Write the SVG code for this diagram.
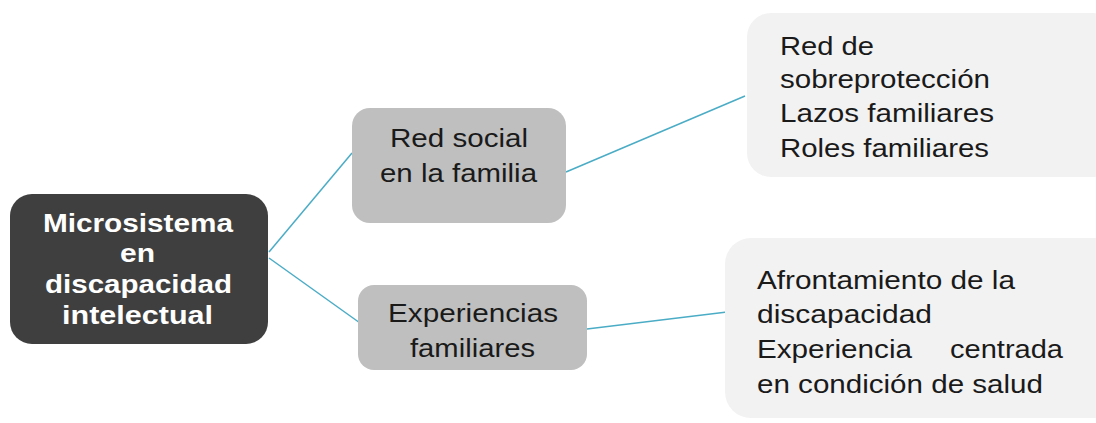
<svg xmlns="http://www.w3.org/2000/svg" width="1096" height="423" viewBox="0 0 1096 423">
<style>
.t{font-family:"Liberation Sans",Arial,sans-serif;font-size:25px;fill:#1a1a1a}
.w{font-family:"Liberation Sans",Arial,sans-serif;font-size:25px;font-weight:bold;fill:#ffffff}
.c{fill:none;stroke:#4bacc6;stroke-width:1.5}
</style>
<rect width="1096" height="423" fill="#ffffff"/>
<g id="connectors">
<line class="c" x1="269" y1="252" x2="352" y2="153"/>
<line class="c" x1="269" y1="258" x2="360" y2="323"/>
<line class="c" x1="566" y1="172" x2="745" y2="96"/>
<line class="c" x1="587" y1="329" x2="727" y2="312"/>
</g>
<g id="root">
<rect x="10" y="194" width="258" height="150" rx="22" fill="#3f3f3f"/>
<text class="w" x="43" y="232" textLength="190" lengthAdjust="spacingAndGlyphs">Microsistema</text>
<text class="w" x="120" y="262" textLength="35" lengthAdjust="spacingAndGlyphs">en</text>
<text class="w" x="45" y="293" textLength="187" lengthAdjust="spacingAndGlyphs">discapacidad</text>
<text class="w" x="62" y="324" textLength="151" lengthAdjust="spacingAndGlyphs">intelectual</text>
</g>
<g id="red-social">
<rect x="352" y="108" width="214" height="115" rx="18" fill="#bfbfbf"/>
<text class="t" x="390" y="147" textLength="138" lengthAdjust="spacingAndGlyphs">Red social</text>
<text class="t" x="380" y="182" textLength="157" lengthAdjust="spacingAndGlyphs">en la familia</text>
</g>
<g id="experiencias">
<rect x="358" y="285" width="229" height="85" rx="16" fill="#bfbfbf"/>
<text class="t" x="388" y="322" textLength="170" lengthAdjust="spacingAndGlyphs">Experiencias</text>
<text class="t" x="410" y="357" textLength="125" lengthAdjust="spacingAndGlyphs">familiares</text>
</g>
<g id="red-detalle">
<rect x="747" y="13" width="370" height="164" rx="24" fill="#f2f2f2"/>
<text class="t" x="780" y="55" textLength="94" lengthAdjust="spacingAndGlyphs">Red de</text>
<text class="t" x="780" y="88" textLength="210" lengthAdjust="spacingAndGlyphs">sobreprotección</text>
<text class="t" x="780" y="122" textLength="214" lengthAdjust="spacingAndGlyphs">Lazos familiares</text>
<text class="t" x="780" y="157" textLength="209" lengthAdjust="spacingAndGlyphs">Roles familiares</text>
</g>
<g id="experiencias-detalle">
<rect x="725" y="238" width="395" height="180" rx="26" fill="#f2f2f2"/>
<text class="t" x="757" y="289" textLength="258" lengthAdjust="spacingAndGlyphs">Afrontamiento de la</text>
<text class="t" x="757" y="323" textLength="175" lengthAdjust="spacingAndGlyphs">discapacidad</text>
<text class="t" x="757" y="358" textLength="155" lengthAdjust="spacingAndGlyphs">Experiencia</text>
<text class="t" x="950" y="358" textLength="113" lengthAdjust="spacingAndGlyphs">centrada</text>
<text class="t" x="757" y="393" textLength="286" lengthAdjust="spacingAndGlyphs">en condición de salud</text>
</g>
</svg>
